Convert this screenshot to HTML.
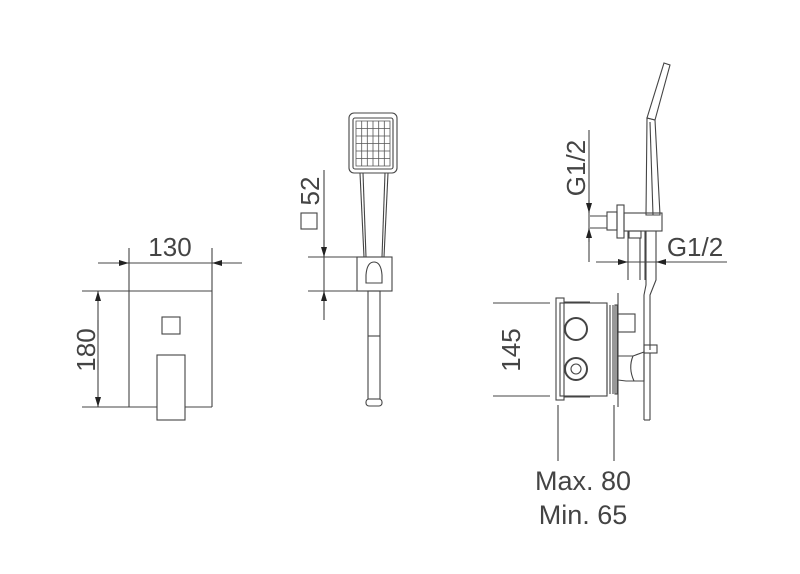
<!DOCTYPE html>
<html><head><meta charset="utf-8"><style>
body{margin:0;background:#fff}
svg{display:block}
text{font-family:"Liberation Sans",sans-serif;fill:#444}
</style></head><body>
<svg width="800" height="574" viewBox="0 0 800 574" xmlns="http://www.w3.org/2000/svg">
<defs>
<marker id="a" viewBox="0 0 10 6" refX="10" refY="3" markerWidth="10" markerHeight="6" orient="auto" markerUnits="userSpaceOnUse"><path d="M0,0L10,3L0,6z" fill="#222"/></marker>
</defs>
<g stroke="#444" stroke-width="1.1" fill="none">
<line x1="129" y1="248" x2="129" y2="407"/>
<line x1="212" y1="248" x2="212" y2="407"/>
<line x1="82" y1="291" x2="212" y2="291"/>
<line x1="82" y1="407" x2="212" y2="407"/>
<line x1="98" y1="263" x2="129" y2="263" marker-end="url(#a)"/>
<line x1="242" y1="263" x2="212" y2="263" marker-end="url(#a)"/>
<line x1="129" y1="263" x2="212" y2="263"/>
<line x1="98" y1="330" x2="98" y2="291" marker-end="url(#a)"/>
<line x1="98" y1="360" x2="98" y2="407" marker-end="url(#a)"/>
<line x1="98" y1="320" x2="98" y2="370"/>
<rect x="162" y="317" width="18" height="17"/>
<rect x="157" y="355" width="28" height="65" fill="#fff"/>
<rect x="349" y="113" width="48" height="60" rx="5"/>
<rect x="353" y="118" width="40" height="51" rx="2"/>
<line x1="360" y1="173" x2="364" y2="257"/><line x1="388" y1="173" x2="384" y2="257"/>
<line x1="363" y1="173" x2="366" y2="257"/><line x1="385" y1="173" x2="382" y2="257"/>
<rect x="357" y="257" width="35" height="34"/>
<path d="M366,275 Q367,262 374,262 Q381,262 382,275 V283 H366Z"/>
<rect x="368" y="291" width="12" height="108"/>
<line x1="368" y1="336" x2="380" y2="336"/>
<rect x="366" y="399" width="16" height="7" rx="3"/>
<line x1="308" y1="257" x2="357" y2="257"/>
<line x1="308" y1="291" x2="357" y2="291"/>
<line x1="324" y1="170" x2="324" y2="320"/>
<line x1="324" y1="240" x2="324" y2="257" marker-end="url(#a)"/>
<line x1="324" y1="310" x2="324" y2="291" marker-end="url(#a)"/>
<rect x="301" y="213" width="16" height="16"/>
<path d="M664,63 L670,65 L655,120 L647,118 Z"/>
<path d="M647,118 L655,120 L660,215 L646,215 Z"/>
<line x1="650" y1="122" x2="653" y2="215"/>
<rect x="617" y="205" width="7" height="33"/>
<rect x="607" y="212" width="10" height="18"/>
<line x1="590" y1="216" x2="607" y2="216"/><line x1="590" y1="228" x2="607" y2="228"/>
<rect x="624" y="213" width="38" height="18"/>
<rect x="629" y="231" width="12" height="7"/>
<line x1="628" y1="231" x2="628" y2="280"/><line x1="640" y1="238" x2="640" y2="280"/>
<line x1="645" y1="231" x2="645" y2="280"/>
<path d="M646,231 L646,285 L644,295 L644,420 M656,231 L656,280 L650,295 L650,350"/>
<line x1="589" y1="130" x2="589" y2="262"/>
<line x1="589" y1="200" x2="589" y2="213" marker-end="url(#a)"/>
<line x1="589" y1="242" x2="589" y2="228" marker-end="url(#a)"/>
<line x1="596" y1="262" x2="727" y2="262"/>
<line x1="605" y1="262" x2="628" y2="262" marker-end="url(#a)"/>
<line x1="675" y1="262" x2="656" y2="262" marker-end="url(#a)"/>
<rect x="556" y="298" width="8" height="102"/>
<rect x="560" y="303" width="47" height="93"/>
<line x1="564" y1="302" x2="590" y2="302"/><line x1="564" y1="397" x2="590" y2="397"/>
<line x1="607" y1="305" x2="607" y2="394"/><line x1="610" y1="305" x2="610" y2="394"/><line x1="613" y1="305" x2="613" y2="394"/>
<rect x="615" y="305" width="2" height="89"/>
<line x1="618" y1="293" x2="618" y2="407"/>
<circle cx="576" cy="329" r="11" stroke-width="2"/>
<circle cx="576" cy="369" r="11" stroke-width="2"/>
<circle cx="576" cy="369" r="5"/>
<rect x="618" y="314" width="17" height="18"/>
<path d="M618,356 L633,356 L644,352 L644,381 L626,381 L618,380"/>
<path d="M633,356 Q628,368 634,381"/>
<rect x="644" y="345" width="13" height="8"/>
<line x1="644" y1="420" x2="650" y2="420"/>
<line x1="650" y1="353" x2="650" y2="420"/>
<line x1="493" y1="303" x2="550" y2="303"/>
<line x1="493" y1="396" x2="550" y2="396"/>
<line x1="558" y1="405" x2="558" y2="461"/>
<line x1="614" y1="405" x2="614" y2="461"/>
</g>
<g fill="none" stroke="#555" stroke-width="0.8">
<path d="M356,121h34v45h-34z M356,128.5h34 M356,136h34 M356,143.5h34 M356,151h34 M356,158.5h34 M361.7,121v45 M367.3,121v45 M373,121v45 M378.7,121v45 M384.3,121v45"/>
</g>
<text x="170" y="256" font-size="26" text-anchor="middle">130</text>
<text transform="translate(95,350) rotate(-90)" font-size="26" text-anchor="middle">180</text>
<text transform="translate(319,191) rotate(-90)" font-size="26" text-anchor="middle">52</text>
<text transform="translate(585,168) rotate(-90)" font-size="26" text-anchor="middle">G1/2</text>
<text x="695" y="256" font-size="26" text-anchor="middle">G1/2</text>
<text transform="translate(520,350) rotate(-90)" font-size="26" text-anchor="middle">145</text>
<text x="583" y="490" font-size="27" text-anchor="middle">Max. 80</text>
<text x="583" y="524" font-size="27" text-anchor="middle">Min. 65</text>
</svg>
</body></html>
